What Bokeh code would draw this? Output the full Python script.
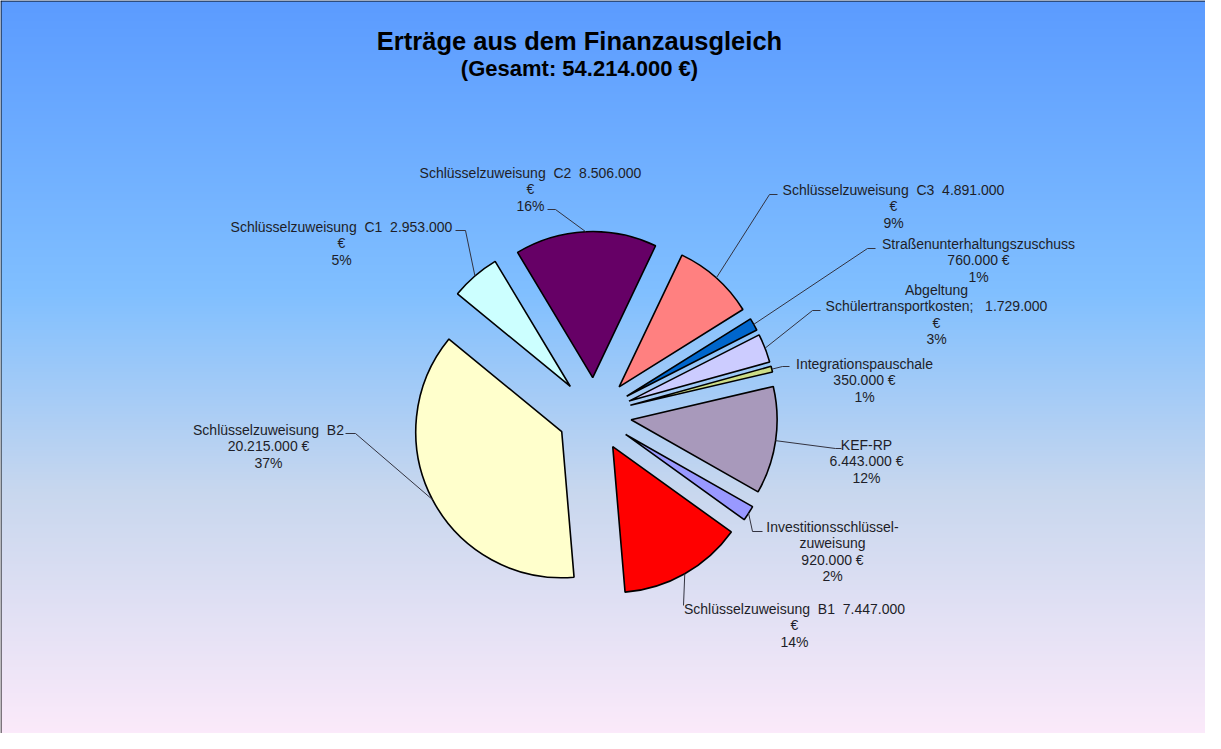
import numpy as np
from bokeh.plotting import figure
from bokeh.models import Range1d
from bokeh.embed import file_html
from bokeh.resources import INLINE
from bokeh.core.properties import value

# ---------------- data ----------------
title_text = "Erträge aus dem Finanzausgleich"
subtitle_text = "(Gesamt: 54.214.000 €)"

categories = [
    "Schlüsselzuweisung C1",
    "Schlüsselzuweisung C2",
    "Schlüsselzuweisung C3",
    "Straßenunterhaltungszuschuss",
    "Abgeltung Schülertransportkosten",
    "Integrationspauschale",
    "KEF-RP",
    "Investitionsschlüsselzuweisung",
    "Schlüsselzuweisung B1",
    "Schlüsselzuweisung B2",
]
amounts = [2953000, 8506000, 4891000, 760000, 1729000, 350000, 6443000, 920000, 7447000, 20215000]
label_texts = [
    "Schlüsselzuweisung  C1  2.953.000\n€\n5%",
    "Schlüsselzuweisung  C2  8.506.000\n€\n16%",
    "Schlüsselzuweisung  C3  4.891.000\n€\n9%",
    "Straßenunterhaltungszuschuss\n760.000 €\n1%",
    "Abgeltung\nSchülertransportkosten;   1.729.000\n€\n3%",
    "Integrationspauschale\n350.000 €\n1%",
    "KEF-RP\n6.443.000 €\n12%",
    "Investitionsschlüssel-\nzuweisung\n920.000 €\n2%",
    "Schlüsselzuweisung  B1  7.447.000\n€\n14%",
    "Schlüsselzuweisung  B2\n20.215.000 €\n37%",
]
colors = ["#CCFFFF", "#660066", "#FF8080", "#0066CC", "#CCCCFF",
          "#CCDD88", "#A899BB", "#9999FF", "#FF0000", "#FFFFCC"]

# ---------------- layout (reference pixel coords) ----------------
W, H = 1205, 733
OFF = 8
PIE_CX, PIE_CY = 602, 422
PIE_R = 146
EXPLODE = 37
START_DEG = 140.6
LINE_STEP = 16.5

label_anchor = [(349, 234), (538, 180), (901, 197), (986, 251), (944, 297),
                (872, 371), (874, 452), (840, 534), (802, 616), (276, 437)]
leader_elbows = [
    [(463, 238), (473, 238)],
    [(555, 217), (563, 217)],
    [(785, 202), (777, 202)],
    [(883, 256), (875, 256)],
    [(828, 318), (820, 318)],
    [(797, 374), (790, 374)],
    [(849, 456), (843, 456)],
    [(770, 539), (760, 539)],
    [(691, 613)],
    [(353, 441), (363, 441)],
]


def X(px):
    return px - OFF


def Y(py):
    return H - (py - OFF)


p = figure(width=W, height=H, x_range=Range1d(0, W), y_range=Range1d(0, H),
           output_backend="svg", toolbar_location=None, min_border=0,
           x_axis_type=None, y_axis_type=None)
p.grid.visible = False
p.outline_line_color = None
p.border_fill_color = "white"

# background gradient
ys_ref = OFF + (H - 1 - np.arange(H)) + 0.5
stops_y = [8, 300, 500, 745]
stops_c = [(91, 155, 255), (128, 191, 255), (200, 215, 238), (252, 234, 250)]
img = np.empty((H, 2), dtype=np.uint32)
view = img.view(dtype=np.uint8).reshape((H, 2, 4))
for k in range(3):
    ch = np.interp(ys_ref, stops_y, [c[k] for c in stops_c])
    view[:, :, k] = np.round(ch)[:, None].astype(np.uint8)
view[:, :, 3] = 255
p.image_rgba(image=[img], x=0, y=0, dw=W, dh=H)

# border (left and top)
p.line([0.5, 0.5], [0, H], line_color="black", line_width=1)
p.line([0, W], [H - 0.5, H - 0.5], line_color="black", line_width=1)

# pie slices
total = float(sum(amounts))
cum = 0.0
wx, wy, sa, ea, arc_pts = [], [], [], [], []
for v in amounts:
    a0 = START_DEG - cum / total * 360.0
    a1 = a0 - v / total * 360.0
    cum += v
    mid = np.radians((a0 + a1) / 2.0)
    cx = X(PIE_CX) + EXPLODE * np.cos(mid)
    cy = Y(PIE_CY) + EXPLODE * np.sin(mid)
    wx.append(cx)
    wy.append(cy)
    sa.append(np.radians(a1))
    ea.append(np.radians(a0))
    arc_pts.append((cx + PIE_R * np.cos(mid), cy + PIE_R * np.sin(mid)))

p.wedge(x=wx, y=wy, radius=PIE_R, start_angle=sa, end_angle=ea,
        direction="anticlock", fill_color=colors, line_color="black", line_width=1.6)

# leader lines
xs, ys = [], []
for elb, ap in zip(leader_elbows, arc_pts):
    xs.append([X(e[0]) for e in elb] + [ap[0]])
    ys.append([Y(e[1]) for e in elb] + [ap[1]])
p.multi_line(xs=xs, ys=ys, line_color="#333340", line_width=1)

# labels (non-breaking spaces keep the double spacing in SVG)
tx, ty, tt = [], [], []
for (ax, ay), txt in zip(label_anchor, label_texts):
    for i, line in enumerate(txt.split("\n")):
        tx.append(X(ax))
        ty.append(Y(ay + i * LINE_STEP))
        tt.append(line.replace(" ", "\u00a0"))
p.text(x=tx, y=ty, text=tt, text_align="center", text_baseline="middle",
       text_font=value("Liberation Sans"), text_font_size="14px", text_color="#1E1E28")

# title
p.text(x=[X(587)], y=[Y(48)], text=[title_text], text_align="center", text_baseline="middle",
       text_font=value("Liberation Sans"), text_font_size="25.5px", text_font_style="bold",
       text_color="black")
p.text(x=[X(587)], y=[Y(76)], text=[subtitle_text], text_align="center", text_baseline="middle",
       text_font=value("Liberation Sans"), text_font_size="22px", text_font_style="bold",
       text_color="black")

open("out.html", "w").write(file_html(p, INLINE))
